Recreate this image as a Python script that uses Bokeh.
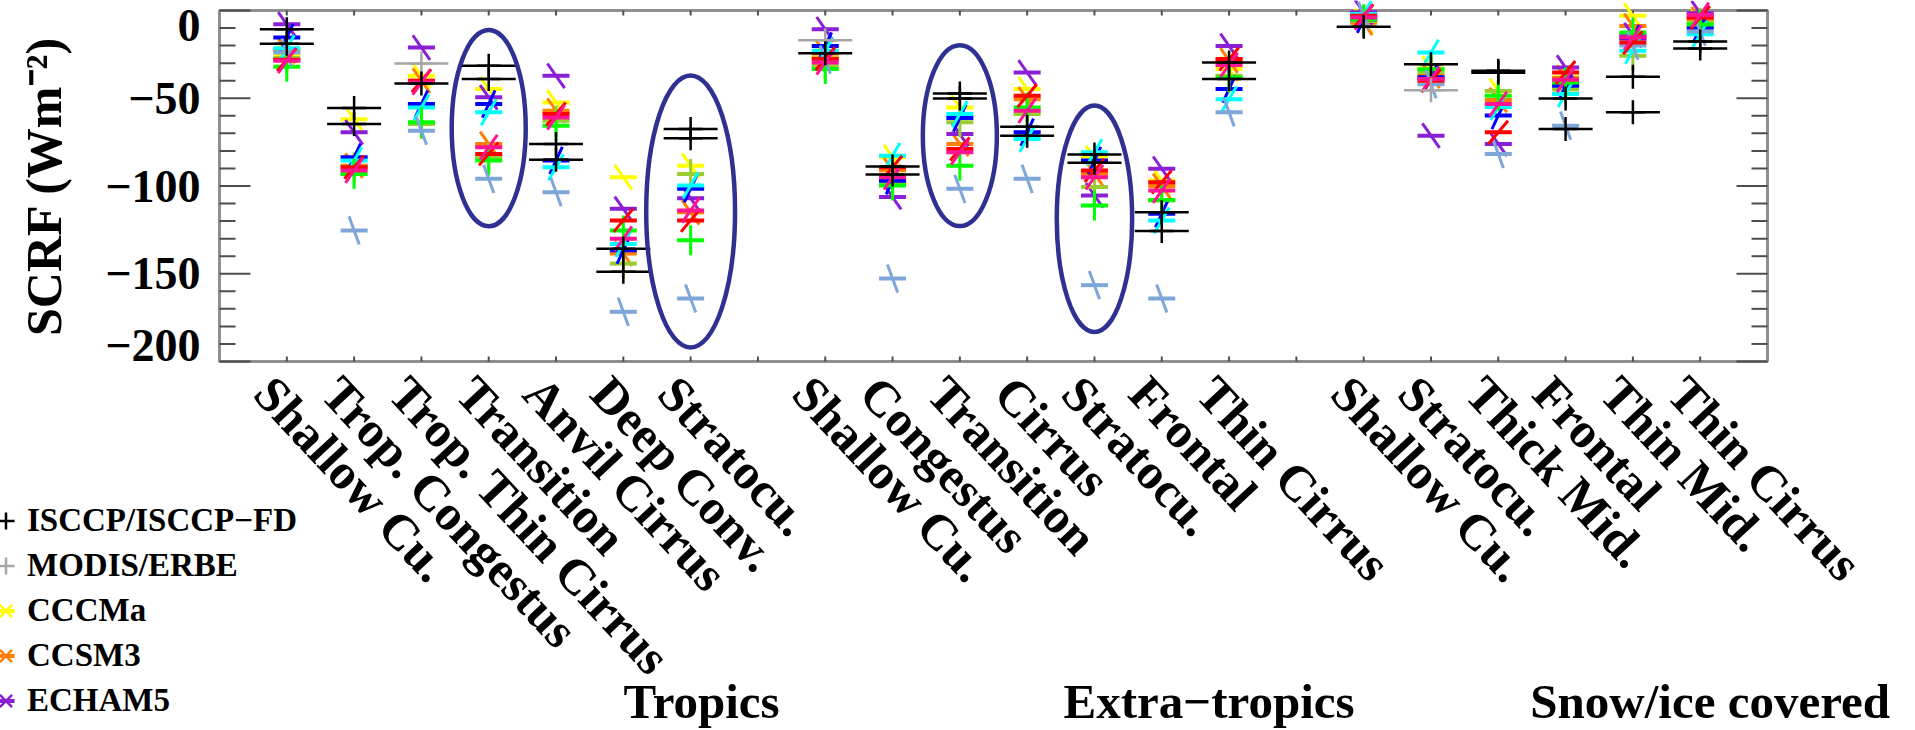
import numpy as np
from bokeh.plotting import figure
from bokeh.models import ColumnDataSource, Range1d, Legend, LegendItem
from bokeh.core.properties import value
from bokeh.embed import file_html
from bokeh.resources import INLINE

nan = float("nan")

# ---------------- data ----------------
tropics_regimes = ["Shallow Cu.", "Trop. Congestus", "Trop. Thin Cirrus", "Transition",
                   "Anvil Cirrus", "Deep Conv.", "Stratocu."]
extratropics_regimes = ["Shallow Cu.", "Congestus", "Transition", "Cirrus", "Stratocu.",
                        "Frontal", "Thin Cirrus"]
snowice_regimes = ["Shallow Cu.", "Stratocu.", "Thick Mid.", "Frontal", "Thin Mid.",
                   "Thin Cirrus"]
group_names = ["Tropics", "Extra\u2212tropics", "Snow/ice covered"]

y_ticks = [0, -50, -100, -150, -200]
y_tick_labels = ["0", "\u221250", "\u2212100", "\u2212150", "\u2212200"]
y_title = "SCRF (Wm\u207b\u00b2)"

# observations (SCRF, W m-2), one value per regime in the order above
isccp = [-10.7, -55.6, -41.6, -31.5, -76.0, -135.7, -67.5,
         -24.3, -88.9, -47.3, -66.2, -82.1, -115.0, -29.6,
         -9.2, -30.6, -34.4, -50.1, -37.8, -17.7]
isccp_fd = [-18.9, -64.7, nan, -39.1, -85.1, -148.9, -72.8,
            nan, -93.5, -50.1, -71.3, -86.7, -125.7, -39.1,
            nan, nan, -35.5, -67.5, -58.0, -21.7]
modis_erbe = [nan, nan, -30.2, nan, nan, nan, nan,
              -17.0, nan, nan, nan, nan, nan, nan,
              nan, -45.4, nan, nan, nan, nan]

# models
cccma = [-25.9, -61.9, -37.2, -44.8, -52.4, -95.0, -88.4,
         -26.8, -83.6, -55.2, -44.8, -84.0, -96.9, -33.4,
         -6.0, -33.0, -45.8, -38.0, -3.0, -6.0]
ccsm3 = [-23.0, -88.4, -40.0, -76.0, -57.1, -138.5, -115.0,
         -24.5, -91.0, -76.0, -50.5, -93.0, -100.0, -28.5,
         -7.0, -37.2, -51.0, -38.5, -8.8, -5.0]
echam5 = [-7.9, -69.4, -21.1, -49.5, -37.2, -113.0, -107.0,
          -10.7, -106.3, -70.4, -35.3, -105.4, -90.2, -20.2,
          -1.0, -71.3, -76.0, -32.5, -14.0, -1.5]
model_olive = [-27.0, -89.3, -64.7, -84.0, -62.8, -144.2, -93.1,
               -31.5, -97.8, -63.7, -59.0, -100.6, -108.2, -37.2,
               -6.0, -35.0, -45.8, -45.0, -25.8, -7.0]
model_blue = [-15.4, -83.6, -53.3, -53.3, -85.5, -136.6, -101.6,
              -20.2, -97.0, -61.3, -69.4, -85.5, -115.8, -44.8,
              -5.0, -38.0, -59.9, -42.9, -16.0, -9.8]
model_cyan = [-21.5, -85.5, -55.2, -58.0, -89.3, -133.0, -99.7,
              -23.0, -82.7, -59.0, -73.2, -80.8, -119.6, -50.5,
              -2.0, -24.0, -55.0, -47.6, -23.0, -13.5]
model_green = [-32.0, -93.1, -63.7, -85.5, -65.6, -125.3, -130.9,
               -33.4, -99.7, -88.4, -55.2, -111.1, -108.0, -38.2,
               -5.0, -33.5, -48.6, -41.0, -12.6, -8.0]
model_lightblue = [-24.0, -125.3, -68.5, -95.9, -103.5, -171.7, -164.1,
                   -28.0, -152.7, -101.6, -95.9, -156.5, -164.1, -58.0,
                   -3.0, -42.0, -81.7, -65.6, -20.0, -12.0]
model_red = [-28.0, -89.3, -40.0, -81.7, -59.0, -119.6, -119.6,
             -27.5, -89.3, -78.9, -48.6, -91.2, -97.8, -27.7,
             -3.0, -40.0, -69.4, -35.3, -18.3, -4.0]
model_magenta = [-28.7, -91.2, -41.0, -77.9, -60.9, -130.0, -113.9,
                 -29.6, -95.0, -80.8, -57.1, -95.0, -102.6, -31.0,
                 -4.0, -39.0, -53.3, -39.5, -15.4, -2.5]

# regimes circled in the figure: (group index, regime name)
highlighted = [(0, "Transition"), (0, "Stratocu."), (1, "Transition"), (1, "Stratocu.")]

# ---------------- layout / style ----------------
FONT = "Liberation Serif"
W, H = 1915, 730
FRAME_L, FRAME_R, FRAME_T, FRAME_B = 219, 1767, 10, 361   # plot box in pixels
AX_COLOR = "#8f8f8f"
TICK_COLOR = "#4d4d4d"

groups = [tropics_regimes, extratropics_regimes, snowice_regimes]
xs, labels, group_last = [], [], []
pos = 1
for regs in groups:
    for r in regs:
        xs.append(pos)
        labels.append(r)
        pos += 1
    group_last.append(pos - 1)
    pos += 1
x_max = xs[-1] + 1
xs = np.array(xs, dtype=float)
y_top, y_bot = y_ticks[0], y_ticks[-1]

# ranges chosen so that the plot box [0, x_max] x [y_bot, y_top] lands on the pixel box
kx = (FRAME_R - FRAME_L) / x_max
ky = (FRAME_B - FRAME_T) / (y_top - y_bot)
x_range = Range1d(-FRAME_L / kx, x_max + (W - FRAME_R) / kx)
y_range = Range1d(y_bot - (H - FRAME_B) / ky, y_top + FRAME_T / ky)

p = figure(width=W, height=H, output_backend="svg", toolbar_location=None,
           x_range=x_range, y_range=y_range, x_axis_location=None, y_axis_location=None,
           min_border=0, background_fill_color="white", border_fill_color="white")
p.xgrid.visible = False
p.ygrid.visible = False
p.outline_line_color = None

# plot box
p.quad(left=[0], right=[x_max], bottom=[y_bot], top=[y_top], fill_color=None,
       line_color=AX_COLOR, line_width=3)

# y ticks (left and right, pointing inwards)
minor_y = [v for v in range(y_bot, y_top + 1, 10) if v % 50]
for xx, ang in [(0, 0.0), (x_max, np.pi)]:
    p.ray(x=xx, y=y_ticks, length=31, length_units="screen", angle=ang,
          line_color=TICK_COLOR, line_width=2)
    p.ray(x=xx, y=minor_y, length=16, length_units="screen", angle=ang,
          line_color=TICK_COLOR, line_width=2)
# x ticks (bottom and top)
x_tick_pos = list(range(1, x_max))
p.ray(x=x_tick_pos, y=y_bot, length=5, length_units="screen", angle=np.pi / 2,
      line_color=TICK_COLOR, line_width=2)
p.ray(x=x_tick_pos, y=y_top, length=5, length_units="screen", angle=-np.pi / 2,
      line_color=TICK_COLOR, line_width=2)

# y tick labels (end labels nudged inwards as in the original)
y_label_nudge = [15, 0, 0, 0, -16]
ylab = ColumnDataSource(dict(y=y_ticks, text=y_tick_labels, dy=y_label_nudge))
p.text(x=0, y="y", text="text", y_offset="dy", x_offset=-19, source=ylab,
       text_align="right", text_baseline="middle", text_font=value(FONT),
       text_font_style="bold", text_font_size="46px", text_color="black")

# y axis title
p.text(x=[0], y=[(y_top + y_bot) / 2], text=[y_title], x_offset=-176, angle=np.pi / 2,
       text_align="center", text_baseline="middle", text_font=value(FONT),
       text_font_style="bold", text_font_size="50px", text_color="black")

# ---------------- markers ----------------
def src(vals):
    return ColumnDataSource(dict(x=xs, y=np.array(vals, dtype=float)))

model_series = [
    ("CCCMa", cccma, "#ffff00", -55),
    ("CCSM3", ccsm3, "#ff8000", -55),
    ("ECHAM5", echam5, "#8a1fd6", -55),
    (None, model_olive, "#9acd32", 90),
    (None, model_blue, "#0000ff", 65),
    (None, model_cyan, "#00ffff", 60),
    (None, model_green, "#00ff00", 90),
    (None, model_lightblue, "#7ea6d8", -70),
    (None, model_red, "#ff0000", 50),
    (None, model_magenta, "#ff1493", 55),
]

legend_models = {}
for name, vals, color, ang in model_series:
    s = src(vals)
    r1 = p.scatter("x", "y", source=s, marker="dash", size=27, line_color=color,
                   line_width=4)
    p.scatter("x", "y", source=s, marker="dash", size=30, angle=np.deg2rad(ang),
              line_color=color, line_width=3)
    if name:
        # legend-only key glyph (the legend draws markers unrotated); no visible point
        r_key = p.scatter(x=[nan], y=[nan], marker="x", line_color=color, line_width=2.5)
        legend_models[name] = [r1, r_key]

def obs(vals, color):
    s = src(vals)
    p.scatter("x", "y", source=s, marker="dash", size=54, line_color=color,
              line_width=2.5)
    r_v = p.scatter("x", "y", source=s, marker="cross", size=24, line_color=color,
                    line_width=2.5)
    return [r_v]

r_modis = obs(modis_erbe, "#a6a6a6")
r_isccp = obs(isccp, "black")
r_isccp_fd = obs(isccp_fd, "black")

# circled regimes
ell_y = [-67.0, -114.5, -71.3, -118.7]
ell_w = [1.1, 1.32, 1.1, 1.12]
ell_h = [112, 155, 103, 129]
ell_x = []
for gi, name in highlighted:
    start = group_last[gi] - len(groups[gi]) + 1
    ell_x.append(start + groups[gi].index(name))
p.ellipse(x=ell_x, y=ell_y, width=ell_w, height=ell_h, fill_color=None,
          line_color="#2e3192", line_width=4.5)

# ---------------- category and group labels ----------------
p.text(x=xs, y=y_bot, text=labels, x_offset=-23, y_offset=23, angle=np.deg2rad(-47),
       text_align="left", text_baseline="alphabetic", text_font=value(FONT),
       text_font_style="bold", text_font_size="50px", text_color="black")

group_dx = [11, -20, 10]
gsrc = ColumnDataSource(dict(x=group_last, text=group_names, dx=group_dx))
p.text(x="x", y=y_bot, text="text", x_offset="dx", y_offset=340, source=gsrc,
       text_align="center", text_baseline="alphabetic", text_font=value(FONT),
       text_font_style="bold", text_font_size="49px", text_color="black")

# ---------------- legend ----------------
items = [LegendItem(label="ISCCP/ISCCP\u2212FD", renderers=r_isccp),
         LegendItem(label="MODIS/ERBE", renderers=r_modis)]
for nm in ["CCCMa", "CCSM3", "ECHAM5"]:
    items.append(LegendItem(label=nm, renderers=legend_models[nm]))
legend = Legend(items=items, location=(-16, 7), orientation="vertical",
                glyph_width=43, glyph_height=45, label_height=45, spacing=0,
                padding=0, margin=0, label_standoff=0,
                border_line_color=None, background_fill_alpha=0,
                label_text_font=FONT, label_text_font_style="bold",
                label_text_font_size="33px", label_text_color="black")
p.add_layout(legend)

open("out.html", "w").write(file_html(p, INLINE))
